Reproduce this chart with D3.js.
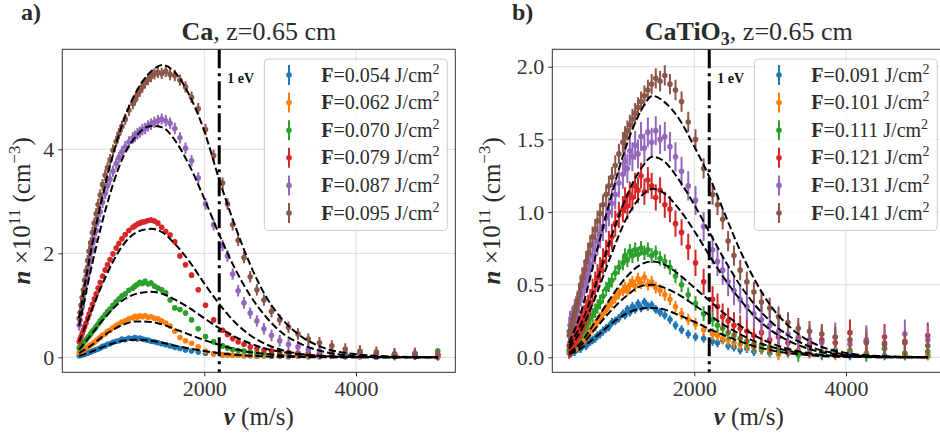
<!DOCTYPE html>
<html>
<head>
<meta charset="utf-8">
<script src="https://cdn.jsdelivr.net/npm/d3@7"></script>
<style>
  body { margin: 0; background: #fff; }
</style>
</head>
<body>
<svg id="fig" width="940" height="441"></svg>
<script>
// ---- data ----
// velocity samples, m/s (time-of-flight bins, shared by both panels)
const velocity = [351, 362, 375, 390, 406, 423, 441, 462, 481, 502, 525, 550, 574, 600, 628, 659, 693, 724, 758, 796,
  838, 874, 914, 958, 1006, 1059, 1087, 1118, 1150, 1184, 1220, 1258, 1298, 1342, 1388, 1438, 1492, 1549, 1611, 1679,
  1752, 1832, 1920, 2016, 2123, 2241, 2306, 2374, 2446, 2523, 2605, 2693, 2786, 2886, 2994, 3110, 3235, 3371, 3519, 3681,
  3858, 4052, 4268, 4508, 4776, 5078];
const fitVelocity = [350, 500, 700, 900, 1100, 1300, 1450, 1600, 1800, 2000, 2200, 2400, 2600, 2800, 3000, 3300, 3600, 4000, 4500, 5080];
const oneEV = 2197;
const colors = ["#1f77b4", "#ff7f0e", "#2ca02c", "#d62728", "#9467bd", "#8c564b"];

// panel a) Ca
const caFluence = ["0.054", "0.062", "0.070", "0.079", "0.087", "0.095"];
const caErr = [0.03, 0.04, 0.05, 0.05, 0.11, 0.11];
const caF054 = [0.03,0.04,0.04,0.05,0.06,0.06,0.08,0.08,0.10,0.10,0.12,0.13,0.15,0.16,0.18,0.21,0.22,0.25,0.26,0.29,
  0.31,0.32,0.35,0.34,0.37,0.36,0.38,0.35,0.37,0.35,0.34,0.33,0.31,0.30,0.28,0.26,0.24,0.22,0.19,0.17,
  0.14,0.12,0.10,0.08,0.07,0.05,0.05,0.04,0.04,0.03,0.03,0.02,0.03,0.02,0.02,0.01,0.02,0.01,0.01,0.02,
  0.01,0.01,0.00,0.01,0.01,0.00];
const caF062 = [0.09,0.10,0.11,0.13,0.14,0.16,0.18,0.19,0.22,0.24,0.26,0.29,0.32,0.35,0.38,0.43,0.45,0.50,0.52,0.57,
  0.61,0.64,0.68,0.70,0.74,0.76,0.79,0.77,0.80,0.78,0.80,0.77,0.78,0.75,0.74,0.70,0.66,0.60,0.50,0.38,
  0.32,0.27,0.20,0.12,0.07,0.05,0.05,0.04,0.04,0.03,0.04,0.03,0.03,0.04,0.03,0.03,0.02,0.02,0.03,0.02,
  0.03,0.02,0.07,0.02,0.03,0.02];
const caF070 = [0.18,0.20,0.22,0.25,0.28,0.31,0.34,0.38,0.41,0.45,0.50,0.54,0.59,0.64,0.70,0.76,0.82,0.88,0.93,1.00,
  1.07,1.12,1.18,1.22,1.29,1.33,1.37,1.40,1.44,1.42,1.46,1.41,1.43,1.37,1.33,1.30,1.24,1.10,0.95,0.92,
  0.85,0.72,0.55,0.40,0.30,0.22,0.18,0.15,0.13,0.12,0.10,0.09,0.08,0.07,0.07,0.06,0.06,0.05,0.06,0.05,
  0.07,0.09,0.05,0.06,0.07,0.12];
const caF079 = [0.30,0.35,0.40,0.46,0.52,0.59,0.66,0.75,0.83,0.92,1.02,1.12,1.22,1.33,1.44,1.56,1.68,1.78,1.88,1.99,
  2.10,2.19,2.28,2.36,2.44,2.50,2.53,2.56,2.58,2.60,2.61,2.63,2.64,2.62,2.58,2.50,2.42,2.35,2.22,1.95,
  1.78,1.58,1.30,1.00,0.72,0.52,0.44,0.36,0.30,0.25,0.20,0.17,0.14,0.12,0.11,0.09,0.08,0.08,0.07,0.08,
  0.07,0.06,0.05,0.04,0.06,0.05];
const caF087 = [0.62,0.72,0.84,0.97,1.10,1.25,1.41,1.58,1.74,1.90,2.08,2.26,2.44,2.62,2.80,2.98,3.15,3.30,3.43,3.58,
  3.72,3.84,3.95,4.05,4.14,4.22,4.25,4.30,4.33,4.38,4.40,4.45,4.48,4.52,4.55,4.58,4.55,4.50,4.40,4.22,
  4.02,3.78,3.45,2.95,2.55,2.15,1.95,1.60,1.28,1.05,0.85,0.70,0.55,0.42,0.32,0.25,0.20,0.15,0.12,0.10,
  0.08,0.07,0.06,0.05,0.08,0.05];
const caF095 = [0.75,0.86,1.00,1.15,1.30,1.48,1.66,1.86,2.04,2.20,2.40,2.58,2.76,2.94,3.12,3.32,3.50,3.65,3.80,3.98,
  4.15,4.30,4.44,4.58,4.75,4.88,4.95,5.05,5.12,5.20,5.28,5.34,5.40,5.45,5.48,5.46,5.50,5.44,5.42,5.33,
  5.20,5.00,4.78,4.38,3.88,3.35,2.95,2.55,2.25,1.92,1.55,1.30,1.10,0.88,0.72,0.58,0.45,0.35,0.28,0.22,
  0.16,0.12,0.10,0.07,0.06,0.05];
const caFit054 = [0.03,0.10,0.22,0.31,0.34,0.32,0.28,0.23,0.17,0.12,0.08,0.05,0.03,0.018,0.01,0.004,0.002,0,0,0];
const caFit062 = [0.08,0.22,0.44,0.61,0.69,0.68,0.63,0.55,0.44,0.33,0.24,0.16,0.10,0.065,0.04,0.016,0.006,0.002,0,0];
const caFit070 = [0.15,0.42,0.78,1.07,1.22,1.26,1.22,1.12,0.95,0.75,0.56,0.40,0.27,0.17,0.11,0.05,0.02,0.007,0.002,0];
const caFit079 = [0.30,0.85,1.55,2.10,2.40,2.47,2.40,2.20,1.85,1.42,1.02,0.68,0.43,0.26,0.15,0.06,0.025,0.008,0.002,0];
const caFit087 = [0.60,1.65,2.85,3.75,4.25,4.45,4.42,4.20,3.70,3.05,2.35,1.72,1.20,0.80,0.50,0.24,0.10,0.03,0.008,0.002];
const caFit095 = [0.75,2.00,3.35,4.40,5.10,5.50,5.62,5.50,5.05,4.35,3.40,2.55,1.80,1.20,0.78,0.38,0.17,0.06,0.015,0.003];

// panel b) CaTiO3
const ctoFluence = ["0.091", "0.101", "0.111", "0.121", "0.131", "0.141"];
const ctoErr = [0.03, 0.04, 0.05, 0.09, 0.10, 0.07];
const ctoF091 = [0.03,0.03,0.04,0.04,0.05,0.04,0.06,0.06,0.07,0.06,0.08,0.09,0.08,0.10,0.11,0.12,0.13,0.15,0.16,0.18,
  0.20,0.21,0.24,0.25,0.27,0.30,0.29,0.33,0.31,0.35,0.33,0.37,0.34,0.38,0.35,0.36,0.33,0.31,0.29,0.26,
  0.22,0.19,0.16,0.14,0.13,0.11,0.10,0.12,0.08,0.07,0.05,0.06,0.04,0.05,0.03,0.04,0.03,0.02,0.03,0.02,
  0.02,0.01,0.02,0.01,0.02,0.01];
const ctoF101 = [0.04,0.05,0.05,0.06,0.07,0.07,0.08,0.09,0.10,0.11,0.12,0.13,0.15,0.16,0.18,0.20,0.22,0.25,0.27,0.30,
  0.33,0.36,0.38,0.41,0.44,0.46,0.48,0.46,0.50,0.52,0.49,0.54,0.51,0.55,0.50,0.52,0.48,0.46,0.43,0.40,
  0.35,0.30,0.26,0.23,0.19,0.16,0.15,0.13,0.12,0.10,0.09,0.08,0.07,0.06,0.05,0.02,0.04,0.05,0.03,0.04,
  0.02,0.05,0.03,0.06,0.02,0.02];
const ctoF111 = [0.05,0.06,0.07,0.08,0.09,0.10,0.11,0.13,0.14,0.16,0.18,0.20,0.22,0.24,0.27,0.29,0.32,0.35,0.38,0.42,
  0.47,0.50,0.53,0.58,0.62,0.65,0.70,0.67,0.73,0.70,0.74,0.71,0.75,0.72,0.74,0.70,0.72,0.68,0.66,0.62,
  0.56,0.50,0.43,0.37,0.30,0.26,0.22,0.20,0.17,0.15,0.13,0.11,0.09,0.08,0.07,0.06,0.05,0.02,0.06,0.03,
  0.05,0.04,0.02,0.06,0.03,0.04];
const ctoF121 = [0.08,0.10,0.09,0.12,0.13,0.12,0.16,0.18,0.20,0.22,0.25,0.27,0.31,0.34,0.38,0.45,0.50,0.55,0.60,0.66,
  0.72,0.78,0.83,0.92,0.98,1.02,1.08,1.04,1.12,1.10,1.18,1.15,1.25,1.14,1.22,1.18,1.10,1.15,1.05,1.02,
  0.92,0.86,0.76,0.65,0.52,0.40,0.35,0.28,0.25,0.22,0.20,0.18,0.15,0.17,0.12,0.14,0.10,0.13,0.09,0.12,
  0.10,0.17,0.11,0.14,0.10,0.15];
const ctoF131 = [0.18,0.22,0.20,0.25,0.26,0.30,0.32,0.36,0.40,0.45,0.48,0.52,0.56,0.60,0.64,0.70,0.74,0.80,0.85,0.90,
  0.96,1.00,1.06,1.12,1.20,1.26,1.35,1.30,1.42,1.38,1.46,1.40,1.52,1.44,1.55,1.48,1.56,1.50,1.52,1.45,
  1.38,1.28,1.18,1.08,0.90,0.74,0.66,0.60,0.52,0.46,0.40,0.35,0.30,0.26,0.22,0.18,0.16,0.14,0.12,0.10,
  0.14,0.09,0.12,0.10,0.16,0.12];
const ctoF141 = [0.15,0.17,0.20,0.23,0.26,0.30,0.34,0.38,0.43,0.50,0.55,0.60,0.66,0.72,0.77,0.83,0.88,0.94,0.99,1.05,
  1.12,1.18,1.24,1.32,1.40,1.48,1.52,1.56,1.60,1.64,1.68,1.72,1.76,1.80,1.84,1.88,1.92,1.90,1.94,1.88,
  1.84,1.76,1.62,1.50,1.30,1.12,1.05,0.95,0.80,0.70,0.60,0.52,0.45,0.38,0.34,0.28,0.24,0.20,0.18,0.16,
  0.14,0.12,0.10,0.09,0.11,0.08];
const ctoFit091 = [0.02,0.06,0.14,0.23,0.30,0.335,0.34,0.33,0.29,0.245,0.195,0.15,0.11,0.075,0.05,0.025,0.011,0.003,0.001,0];
const ctoFit101 = [0.03,0.08,0.20,0.32,0.42,0.49,0.50,0.48,0.43,0.36,0.29,0.22,0.16,0.11,0.075,0.038,0.017,0.005,0.001,0];
const ctoFit111 = [0.03,0.10,0.25,0.41,0.55,0.64,0.66,0.64,0.57,0.48,0.39,0.30,0.22,0.15,0.10,0.05,0.022,0.007,0.002,0];
const ctoFit121 = [0.06,0.18,0.42,0.70,0.95,1.11,1.16,1.13,1.02,0.87,0.70,0.54,0.40,0.28,0.19,0.10,0.045,0.015,0.004,0];
const ctoFit131 = [0.08,0.22,0.50,0.82,1.10,1.30,1.38,1.35,1.22,1.05,0.86,0.67,0.50,0.36,0.25,0.13,0.06,0.02,0.005,0.001];
const ctoFit141 = [0.10,0.30,0.70,1.10,1.45,1.70,1.80,1.76,1.64,1.45,1.24,0.99,0.74,0.53,0.36,0.19,0.09,0.03,0.008,0.002];

// ---- drawing ----
const svg = d3.select("#fig");
const plotTop = 49.3, plotBottom = 372.3, plotW = 393;
const serif = "Liberation Serif";
const ink = "#2b2b2b";

function rich(sel, segs) {
  let prev = 0;
  segs.forEach(s => {
    const sh = s.shift || 0;
    const ts = sel.append("tspan").text(s.t).attr("dy", sh - prev);
    if (s.bold) ts.attr("font-weight", "bold");
    if (s.italic) ts.attr("font-style", "italic");
    if (s.size) ts.attr("font-size", s.size);
    prev = sh;
  });
}

function label(parent, size) {
  return parent.append("text").attr("font-family", serif).attr("font-size", size).attr("fill", ink);
}

const panels = [
  { id: "a", left: 62.3, letter: "a)", letterX: 21, ylabX: 30,
    title: [{t: "Ca", bold: true}, {t: ", z=0.65 cm"}],
    yDomain: [-0.288, 5.923], yTicks: [0, 2, 4], yFmt: d3.format("d"),
    series: [caF054, caF062, caF070, caF079, caF087, caF095],
    fits: [caFit054, caFit062, caFit070, caFit079, caFit087, caFit095],
    err: caErr, fluence: caFluence },
  { id: "b", left: 552.3, letter: "b)", letterX: 512, ylabX: 500,
    title: [{t: "CaTiO", bold: true}, {t: "3", bold: true, size: 18, shift: 5}, {t: ", z=0.65 cm"}],
    yDomain: [-0.103, 2.12], yTicks: [0, 0.5, 1, 1.5, 2], yFmt: d3.format(".1f"),
    series: [ctoF091, ctoF101, ctoF111, ctoF121, ctoF131, ctoF141],
    fits: [ctoFit091, ctoFit101, ctoFit111, ctoFit121, ctoFit131, ctoFit141],
    err: ctoErr, fluence: ctoFluence }
];

panels.forEach(p => {
  const right = p.left + plotW;
  const x = d3.scaleLinear().domain([128, 5309]).range([p.left, right]);
  const y = d3.scaleLinear().domain(p.yDomain).range([plotBottom, plotTop]);
  const g = svg.append("g");

  g.append("clipPath").attr("id", "clip-" + p.id)
    .append("rect").attr("x", p.left).attr("y", plotTop).attr("width", plotW).attr("height", plotBottom - plotTop);

  // grid
  g.append("g").selectAll("line").data([2000, 4000]).join("line")
    .attr("x1", d => x(d)).attr("x2", d => x(d)).attr("y1", plotTop).attr("y2", plotBottom)
    .attr("stroke", "#dcdcdc").attr("stroke-width", 1);
  g.append("g").selectAll("line").data(p.yTicks).join("line")
    .attr("x1", p.left).attr("x2", right).attr("y1", d => y(d)).attr("y2", d => y(d))
    .attr("stroke", "#dcdcdc").attr("stroke-width", 1);

  const plot = g.append("g").attr("clip-path", "url(#clip-" + p.id + ")");

  // data with error bars
  p.series.forEach((vals, i) => {
    const s = plot.append("g");
    const pts = velocity.map((v, k) => ({v: v, n: vals[k], e: p.err[i]}));
    s.selectAll("line").data(pts).join("line")
      .attr("x1", d => x(d.v)).attr("x2", d => x(d.v))
      .attr("y1", d => y(d.n - d.e)).attr("y2", d => y(d.n + d.e))
      .attr("stroke", colors[i]).attr("stroke-width", 2);
    s.selectAll("circle").data(pts).join("circle")
      .attr("cx", d => x(d.v)).attr("cy", d => y(d.n)).attr("r", 2.8)
      .attr("fill", colors[i]);
  });

  // fitted curves
  const line = d3.line().x(d => x(d[0])).y(d => y(d[1])).curve(d3.curveMonotoneX);
  p.fits.forEach(f => {
    plot.append("path").datum(fitVelocity.map((v, k) => [v, f[k]]))
      .attr("d", line).attr("fill", "none")
      .attr("stroke", "#000").attr("stroke-width", 2).attr("stroke-dasharray", "7.4,3.2");
  });

  // 1 eV marker
  plot.append("line").attr("x1", x(oneEV)).attr("x2", x(oneEV)).attr("y1", plotTop).attr("y2", plotBottom)
    .attr("stroke", "#000").attr("stroke-width", 3).attr("stroke-dasharray", "19,5,3,5");
  label(g, 14).attr("x", x(oneEV) + 8).attr("y", 83).attr("font-weight", "bold").attr("fill", "#111").text("1 eV");

  // legend
  const lg = g.append("g");
  const lx = right - 191, ly = 59;
  lg.append("rect").attr("x", lx).attr("y", ly).attr("width", 183).attr("height", 171.5).attr("rx", 4)
    .attr("fill", "#fff").attr("fill-opacity", 0.8).attr("stroke", "#cccccc").attr("stroke-width", 1);
  p.fluence.forEach((f, i) => {
    const cy = ly + 16 + i * 27.6;
    lg.append("line").attr("x1", lx + 24.7).attr("x2", lx + 24.7).attr("y1", cy - 10).attr("y2", cy + 10)
      .attr("stroke", colors[i]).attr("stroke-width", 2);
    lg.append("circle").attr("cx", lx + 24.7).attr("cy", cy).attr("r", 2.8).attr("fill", colors[i]);
    const t = label(lg, 20).attr("x", lx + 57).attr("y", cy + 6.5);
    rich(t, [{t: "F", bold: true}, {t: "=" + f + " J/cm"}, {t: "2", size: 14, shift: -8}]);
  });

  // axes
  const xa = g.append("g").attr("transform", `translate(0,${plotBottom})`)
    .call(d3.axisBottom(x).tickValues([2000, 4000]).tickSize(4).tickPadding(4).tickFormat(d3.format("d")));
  const ya = g.append("g").attr("transform", `translate(${p.left},0)`)
    .call(d3.axisLeft(y).tickValues(p.yTicks).tickSize(4).tickPadding(4).tickFormat(p.yFmt));
  [xa, ya].forEach(a => {
    a.attr("font-family", serif).attr("font-size", 22);
    a.select(".domain").remove();
    a.selectAll(".tick line").attr("stroke", "#333");
    a.selectAll(".tick text").attr("fill", "#333");
  });
  g.append("rect").attr("x", p.left).attr("y", plotTop).attr("width", plotW).attr("height", plotBottom - plotTop)
    .attr("fill", "none").attr("stroke", "#333").attr("stroke-width", 1);

  // titles and labels
  const tt = label(g, 26).attr("x", p.left + plotW / 2).attr("y", 40).attr("text-anchor", "middle");
  rich(tt, p.title);
  label(g, 24).attr("x", p.letterX).attr("y", 20).attr("font-weight", "bold").text(p.letter);

  const xl = label(g, 25).attr("x", p.left + plotW / 2).attr("y", 425).attr("text-anchor", "middle");
  rich(xl, [{t: "v", bold: true, italic: true}, {t: " (m/s)"}]);

  const yl = label(g, 25).attr("text-anchor", "middle")
    .attr("transform", `translate(${p.ylabX},${(plotTop + plotBottom) / 2}) rotate(-90)`);
  rich(yl, [{t: "n", bold: true, italic: true}, {t: " ×10"}, {t: "11", size: 17, shift: -10},
    {t: " (cm"}, {t: "−3", size: 17, shift: -10}, {t: ")"}]);
});
</script>
</body>
</html>
